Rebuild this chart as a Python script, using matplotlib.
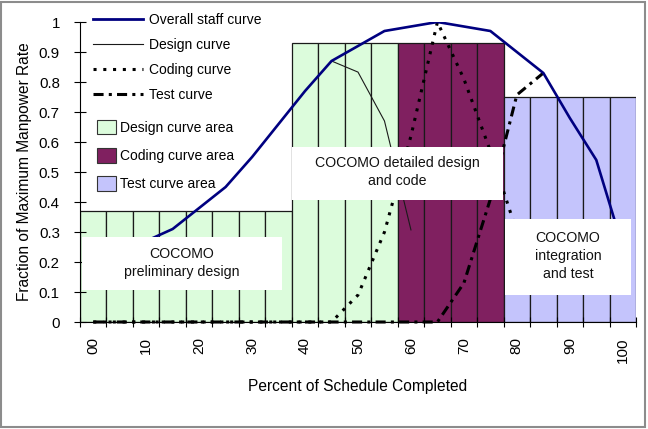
import numpy as np
import matplotlib
matplotlib.use('Agg')
import matplotlib.pyplot as plt
from matplotlib.patches import Patch, Rectangle
from matplotlib.lines import Line2D

plt.rcParams['font.family'] = ['Liberation Sans', 'DejaVu Sans']

# percent of schedule completed (one category every 5 %)
categories = ['00', '05', '10', '15', '20', '25', '30', '35', '40', '45', '50',
              '55', '60', '65', '70', '75', '80', '85', '90', '95', '100']
nan = np.nan

# column series (curve areas)
design_area = [0.37, 0.37, 0.37, 0.37, 0.37, 0.37, 0.37, 0.37, 0.93, 0.93, 0.93,
               0.93, 0, 0, 0, 0, 0, 0, 0, 0, 0]
coding_area = [0, 0, 0, 0, 0, 0, 0, 0, 0, 0, 0,
               0, 0.93, 0.93, 0.93, 0.93, 0, 0, 0, 0, 0]
test_area = [0, 0, 0, 0, 0, 0, 0, 0, 0, 0, 0,
             0, 0, 0, 0, 0, 0.75, 0.75, 0.75, 0.75, 0.75]

# line series
overall = [0.18, 0.22, 0.27, 0.31, 0.38, 0.45, 0.55, 0.66, 0.77, 0.87, 0.92,
           0.97, 0.985, 1.0, 0.985, 0.97, 0.90, 0.83, 0.68, 0.54, 0.25]
design_curve = [nan, nan, nan, nan, nan, nan, nan, nan, nan, 0.87, 0.833,
                0.67, 0.307, nan, nan, nan, nan, nan, nan, nan, nan]
coding_curve = [0, 0, 0, 0, 0, 0, 0, 0, 0, 0, 0.09,
                0.30, 0.62, 1.0, 0.81, 0.57, 0.30, nan, nan, nan, nan]
test_curve = [0, 0, 0, 0, 0, 0, 0, 0, 0, 0, 0,
              0, 0, 0, 0.13, 0.41, 0.757, 0.83, nan, nan, nan]

green = '#DCFCDC'
plum = '#802060'
lilac = '#C4C4FC'
navy = '#000080'

fig = plt.figure(figsize=(6.48, 4.29), dpi=100)
ax = fig.add_axes([80 / 648, 107 / 429, 556 / 648, 300 / 429])
x = np.arange(len(categories))

for vals, col in [(design_area, green), (coding_area, plum), (test_area, lilac)]:
    v = np.array(vals, dtype=float)
    m = v > 0
    ax.bar(x[m], v[m], width=1.0, color=col, edgecolor='#1a1a1a',
           linewidth=0.9, zorder=1)

ax.plot(x, overall, color=navy, lw=1.9, zorder=4)
ax.plot(x, design_curve, color='#1a1a1a', lw=0.8, zorder=3)
ax.plot(x, coding_curve, color='black', lw=2.2, ls=(0, (1, 2.2)),
        zorder=3, clip_on=False)
ax.plot(x, test_curve, color='black', lw=2.2, ls=(0, (3.3, 1.7, 1, 1.7)),
        zorder=3, clip_on=False)

# white label boxes
boxes = [
    (-0.42, 0.107, 7.55, 0.176, 3.35, 0.197, 'COCOMO\npreliminary design'),
    (7.51, 0.407, 7.97, 0.176, 11.49, 0.50, 'COCOMO detailed design\nand code'),
    (15.55, 0.09, 4.76, 0.253, 17.93, 0.22, 'COCOMO\nintegration\nand test'),
]
for bx, by, bw, bh, tx, ty, txt in boxes:
    ax.add_patch(Rectangle((bx, by), bw, bh, facecolor='white',
                           edgecolor='none', zorder=6))
    ax.text(tx, ty, txt, ha='center', va='center', fontsize=10.2,
            linespacing=1.35, color='#111111', zorder=7)

ax.set_xlim(-0.5, len(categories) - 0.5)
ax.set_ylim(0, 1)
ax.set_yticks(np.arange(0, 1.01, 0.1))
ax.set_yticklabels(['0', '0.1', '0.2', '0.3', '0.4', '0.5', '0.6', '0.7',
                    '0.8', '0.9', '1'])
ax.set_xticks(np.arange(-0.5, len(categories), 1.0))
ax.set_xticklabels([])
ax.set_xticks(x[::2], minor=True)
ax.set_xticklabels(categories[::2], minor=True, rotation=90)
ax.tick_params(axis='x', which='minor', length=0, pad=11, labelsize=11)
ax.tick_params(axis='x', which='major', direction='inout', length=7, width=0.8)
ax.tick_params(axis='y', direction='inout', length=9, width=0.8, pad=10,
               labelsize=10.8)
for s in ['top', 'right']:
    ax.spines[s].set_visible(False)
for s in ['left', 'bottom']:
    ax.spines[s].set_linewidth(0.8)
    ax.spines[s].set_zorder(5)

ax.set_xlabel('Percent of Schedule Completed', fontsize=11.2, labelpad=12)
ax.set_ylabel('Fraction of Maximum Manpower Rate', fontsize=11.2, labelpad=5)

line_handles = [
    Line2D([], [], color=navy, lw=2.0),
    Line2D([], [], color='#1a1a1a', lw=0.8),
    Line2D([], [], color='black', lw=2.2, ls=(0, (1, 2.2))),
    Line2D([], [], color='black', lw=2.2, ls=(0, (3.3, 1.7, 1, 1.7))),
]
leg1 = ax.legend(line_handles, ['Overall staff curve', 'Design curve',
                                'Coding curve', 'Test curve'],
                 loc='upper left', bbox_to_anchor=(93 / 648, 1 - 13 / 429),
                 bbox_transform=fig.transFigure, frameon=False, fontsize=10,
                 handlelength=3.6, handletextpad=0.45, labelspacing=0.8,
                 borderpad=0, borderaxespad=0)
leg1.set_zorder(8)
ax.add_artist(leg1)
patch_handles = [
    Patch(facecolor=green, edgecolor='#333333', lw=0.8),
    Patch(facecolor=plum, edgecolor='#333333', lw=0.8),
    Patch(facecolor=lilac, edgecolor='#333333', lw=0.8),
]
leg2 = ax.legend(patch_handles, ['Design curve area', 'Coding curve area',
                                 'Test curve area'],
                 loc='upper left', bbox_to_anchor=(97 / 648, 1 - 120 / 429),
                 bbox_transform=fig.transFigure, frameon=False, fontsize=10,
                 handlelength=1.37, handleheight=1.22, handletextpad=0.3,
                 labelspacing=0.95, borderpad=0, borderaxespad=0)
leg2.set_zorder(8)

fig.add_artist(Rectangle((0.002, 0.004), 0.994, 0.992, transform=fig.transFigure,
                         facecolor='none', edgecolor='#8c8c8c', lw=1.5))

fig.savefig('out.png', dpi=100)
